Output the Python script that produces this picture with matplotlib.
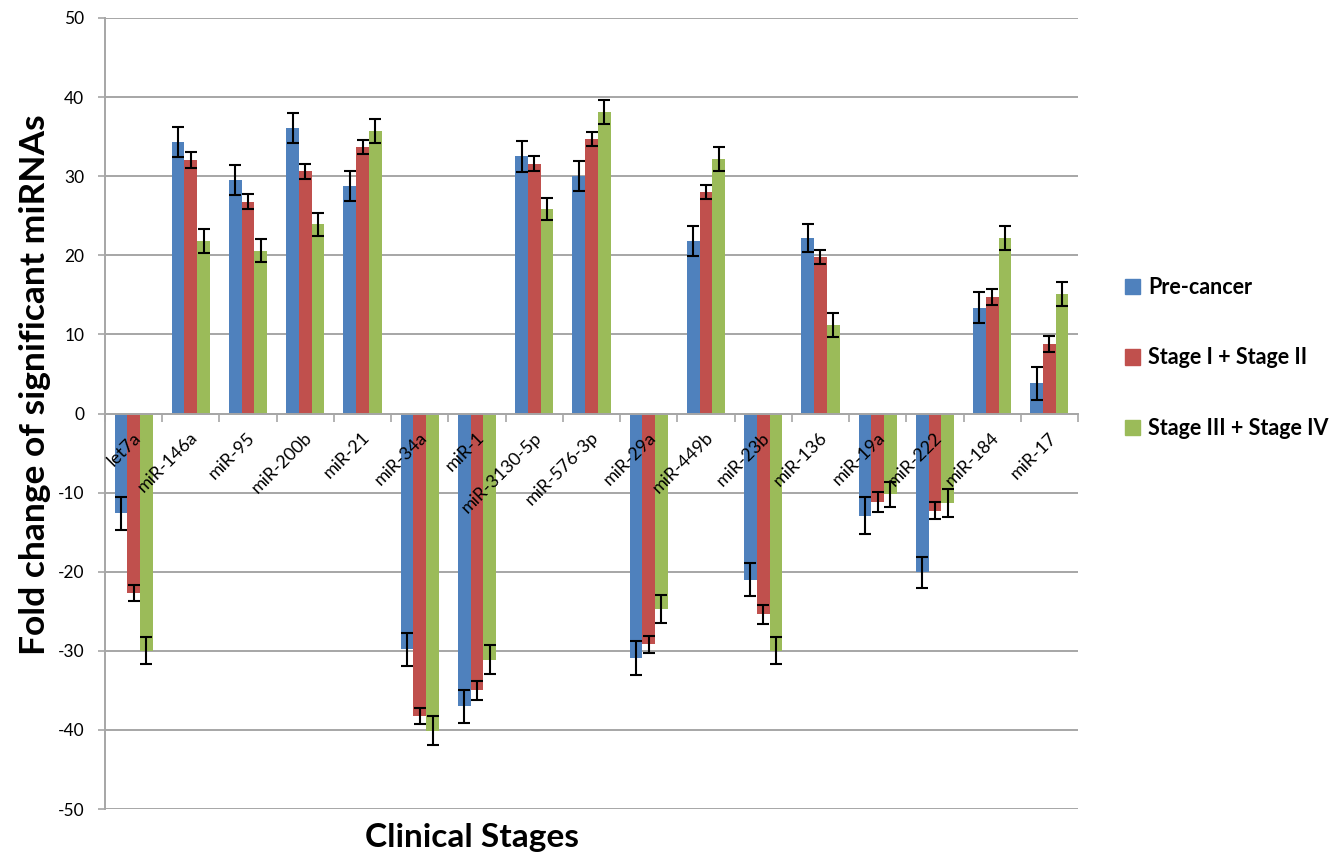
import numpy as np
import matplotlib
matplotlib.use("Agg")
import matplotlib.pyplot as plt
from matplotlib.patches import Patch

plt.rcParams['font.family'] = ['Lato', 'DejaVu Sans']
plt.rcParams['axes.unicode_minus'] = False

categories = ["let7a", "miR-146a", "miR-95", "miR-200b", "miR-21", "miR-34a", "miR-1",
              "miR-3130-5p", "miR-576-3p", "miR-29a", "miR-449b", "miR-23b", "miR-136",
              "miR-19a", "miR-222", "miR-184", "miR-17"]

pre_cancer = [-12.6, 34.3, 29.5, 36.1, 28.8, -29.8, -37.0, 32.5, 30.0, -30.9, 21.8,
              -21.0, 22.2, -12.9, -20.1, 13.4, 3.8]
stage_1_2 = [-22.7, 32.0, 26.8, 30.6, 33.7, -38.2, -35.0, 31.6, 34.7, -29.2, 28.0,
             -25.4, 19.8, -11.2, -12.3, 14.7, 8.8]
stage_3_4 = [-30.0, 21.8, 20.6, 23.9, 35.7, -40.1, -31.1, 25.9, 38.1, -24.7, 32.2,
             -30.0, 11.2, -10.2, -11.3, 22.2, 15.1]

err_pre = [2.1, 1.9, 1.9, 1.9, 1.9, 2.1, 2.1, 2.0, 1.9, 2.2, 1.9, 2.1, 1.8, 2.3, 2.0, 1.9, 2.1]
err_12 = [1.0, 1.0, 1.0, 0.9, 0.9, 1.0, 1.2, 0.9, 0.9, 1.1, 0.9, 1.2, 0.9, 1.3, 1.1, 1.0, 1.0]
err_34 = [1.7, 1.5, 1.5, 1.5, 1.5, 1.8, 1.8, 1.4, 1.5, 1.8, 1.5, 1.7, 1.5, 1.6, 1.8, 1.5, 1.5]

series_names = ["Pre-cancer", "Stage I + Stage II", "Stage III + Stage IV"]
colors = ["#4F81BD", "#C0504D", "#9BBB59"]

fig = plt.figure(figsize=(13.36, 8.57), dpi=100)
ax = fig.add_axes([105 / 1336, 48 / 857, 973 / 1336, 791 / 857])

x = np.arange(len(categories))
w = 0.222
for k, (vals, errs) in enumerate([(pre_cancer, err_pre), (stage_1_2, err_12), (stage_3_4, err_34)]):
    ax.bar(x + (k - 1) * w, vals, w, color=colors[k], zorder=2,
           yerr=errs, error_kw=dict(ecolor='black', elinewidth=1.5, capsize=4.5, capthick=1.5, zorder=3))

ax.set_xlim(-0.5, len(categories) - 0.5)
ax.set_ylim(-50, 50)
ax.set_yticks(np.arange(-50, 51, 10))
ax.yaxis.grid(True, color='#A6A6A6', linewidth=1.4, zorder=0)
ax.set_axisbelow(True)
ax.tick_params(axis='y', labelsize=12.5, length=5, color='#A6A6A6', width=1.2, pad=10)

ax.spines['top'].set_visible(False)
ax.spines['right'].set_visible(False)
ax.spines['left'].set_color('#A6A6A6')
ax.spines['left'].set_linewidth(1.4)
ax.spines['bottom'].set_position(('data', 0))
ax.spines['bottom'].set_color('#A6A6A6')
ax.spines['bottom'].set_linewidth(1.4)
ax.set_xticks(np.arange(-0.5, len(categories), 1.0))
ax.set_xticklabels([])
ax.tick_params(axis='x', length=6, color='#A6A6A6', width=1.2, direction='out')

for i, lab in enumerate(categories):
    ax.text(i - 0.02, -2.0, lab, rotation=45, ha='right', va='top',
            rotation_mode='anchor', fontsize=13, zorder=4)

fig.text(35 / 1336, 1 - 385 / 857, "Fold change of significant miRNAs", rotation=90,
         ha='center', va='center', fontsize=25.5, fontweight='bold')
fig.text(472 / 1336, 1 - 838 / 857, "Clinical Stages", ha='center', va='center',
         fontsize=24, fontweight='bold')

handles = [Patch(color=c) for c in colors]
fig.legend(handles, series_names, loc='center left', bbox_to_anchor=(1106 / 1336, 1 - 358 / 857),
           frameon=False, prop=dict(weight='bold', size=15.5), labelspacing=2.3,
           handlelength=0.7, handleheight=0.7, handletextpad=0.35)

fig.savefig("out.png", dpi=100)
